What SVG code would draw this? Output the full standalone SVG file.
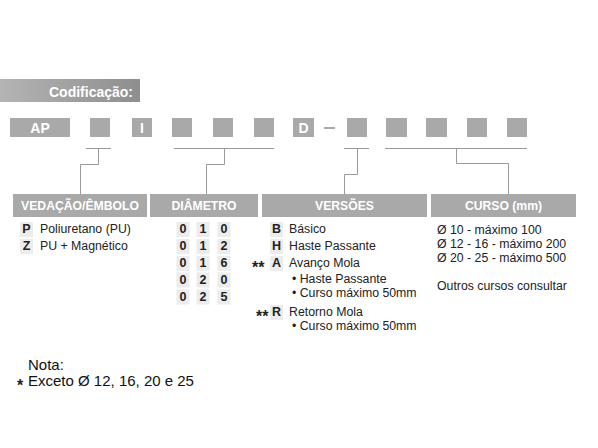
<svg xmlns="http://www.w3.org/2000/svg" width="598" height="448" viewBox="0 0 598 448">
<defs>
<linearGradient id="tg" x1="0" y1="0" x2="1" y2="0">
<stop offset="0" stop-color="#b4b4b4"/>
<stop offset="1" stop-color="#8e8e8e"/>
</linearGradient>
</defs>
<style>
.box{fill:#a9a9a9}
.hdr{fill:#a9a9a9}
.cell{fill:#ececec}
.ln{fill:none;stroke:#9a9a9a;stroke-width:1}
.wt{font-family:"Liberation Sans",Arial,sans-serif;font-weight:bold;fill:#fff;text-anchor:middle}
.t{font-family:"Liberation Sans",Arial,sans-serif;font-size:12.3px;fill:#222}
.b{font-family:"Liberation Sans",Arial,sans-serif;font-size:12.5px;font-weight:bold;fill:#222;text-anchor:middle}
.st{font-family:"Liberation Sans",Arial,sans-serif;font-size:16px;font-weight:bold;fill:#222}
.n{font-family:"Liberation Sans",Arial,sans-serif;font-size:15px;fill:#111}
</style>
<rect width="598" height="448" fill="#fff"/>

<g id="title">
<rect x="0" y="79" width="140" height="23" fill="url(#tg)"/>
<text x="91" y="97" class="wt" font-size="14">Codificação:</text>
</g>

<g id="code">
<rect class="box" x="10" y="118" width="60" height="19"/>
<text x="40" y="133" class="wt" font-size="14">AP</text>
<rect class="box" x="90" y="118" width="20" height="19"/>
<rect class="box" x="132" y="118" width="20" height="19"/>
<text x="142" y="133" class="wt" font-size="14">I</text>
<rect class="box" x="172" y="118" width="20" height="19"/>
<rect class="box" x="213" y="118" width="20" height="19"/>
<rect class="box" x="254" y="118" width="20" height="19"/>
<rect class="box" x="293" y="118" width="21" height="19"/>
<text x="303.5" y="133" class="wt" font-size="14">D</text>
<rect x="324" y="127" width="11" height="2" fill="#a9a9a9"/>
<rect class="box" x="347" y="118" width="20" height="19"/>
<rect class="box" x="386" y="118" width="21" height="19"/>
<rect class="box" x="426" y="118" width="21" height="19"/>
<rect class="box" x="467" y="118" width="20" height="19"/>
<rect class="box" x="507" y="118" width="20" height="19"/>
</g>

<g id="connectors">
<line class="ln" x1="86" y1="148.5" x2="111" y2="148.5"/>
<polyline class="ln" points="98.5,148.5 98.5,164.5 80.5,164.5 80.5,194"/>
<line class="ln" x1="174" y1="148.5" x2="274" y2="148.5"/>
<polyline class="ln" points="224.5,148.5 224.5,164.5 206.5,164.5 206.5,194"/>
<line class="ln" x1="344" y1="148.5" x2="369" y2="148.5"/>
<polyline class="ln" points="357.5,148.5 357.5,174.5 344.5,174.5 344.5,194"/>
<line class="ln" x1="385" y1="148.5" x2="527" y2="148.5"/>
<polyline class="ln" points="456.5,148.5 456.5,163.5 508.5,163.5 508.5,194"/>
</g>

<g id="vedacao">
<rect class="hdr" x="13" y="194" width="134" height="23"/>
<text x="80" y="210" class="wt" font-size="12.2">VEDAÇÃO/ÊMBOLO</text>
<rect class="cell" x="20" y="222" width="13" height="15"/>
<rect class="cell" x="20" y="239" width="13" height="15"/>
<text x="26.5" y="233" class="b">P</text>
<text x="26.5" y="250" class="b">Z</text>
<text x="40" y="233" class="t">Poliuretano (PU)</text>
<text x="40" y="250" class="t">PU + Magnético</text>
</g>

<g id="diametro">
<rect class="hdr" x="150" y="194" width="108" height="23"/>
<text x="204" y="210" class="wt" font-size="12.2">DIÂMETRO</text>
<g class="cell">
<rect x="176.5" y="222" width="13" height="15"/><rect x="196.5" y="222" width="13" height="15"/><rect x="217.5" y="222" width="13" height="15"/>
<rect x="176.5" y="239" width="13" height="15"/><rect x="196.5" y="239" width="13" height="15"/><rect x="217.5" y="239" width="13" height="15"/>
<rect x="176.5" y="256" width="13" height="15"/><rect x="196.5" y="256" width="13" height="15"/><rect x="217.5" y="256" width="13" height="15"/>
<rect x="176.5" y="272.5" width="13" height="15"/><rect x="196.5" y="272.5" width="13" height="15"/><rect x="217.5" y="272.5" width="13" height="15"/>
<rect x="176.5" y="289.5" width="13" height="15"/><rect x="196.5" y="289.5" width="13" height="15"/><rect x="217.5" y="289.5" width="13" height="15"/>
</g>
<text class="b" y="233"><tspan x="183">0</tspan><tspan x="203">1</tspan><tspan x="224">0</tspan></text>
<text class="b" y="250"><tspan x="183">0</tspan><tspan x="203">1</tspan><tspan x="224">2</tspan></text>
<text class="b" y="267"><tspan x="183">0</tspan><tspan x="203">1</tspan><tspan x="224">6</tspan></text>
<text class="b" y="283.5"><tspan x="183">0</tspan><tspan x="203">2</tspan><tspan x="224">0</tspan></text>
<text class="b" y="300.5"><tspan x="183">0</tspan><tspan x="203">2</tspan><tspan x="224">5</tspan></text>
</g>

<g id="versoes">
<rect class="hdr" x="262" y="194" width="165" height="23"/>
<text x="344.5" y="210" class="wt" font-size="12.2">VERSÕES</text>
<rect class="cell" x="270" y="222" width="13" height="15"/>
<rect class="cell" x="270" y="239" width="13" height="15"/>
<rect class="cell" x="270" y="256" width="13" height="15"/>
<rect class="cell" x="270" y="305" width="13" height="15"/>
<text x="276.5" y="233" class="b">B</text>
<text x="276.5" y="250" class="b">H</text>
<text x="276.5" y="267" class="b">A</text>
<text x="276.5" y="316" class="b">R</text>
<text x="252" y="273" class="st">**</text>
<text x="256" y="322" class="st">**</text>
<text x="289" y="233" class="t">Básico</text>
<text x="289" y="250" class="t">Haste Passante</text>
<text x="289" y="267" class="t">Avanço Mola</text>
<text x="292" y="282.5" class="t">• Haste Passante</text>
<text x="292" y="296.5" class="t">• Curso máximo 50mm</text>
<text x="289" y="316" class="t">Retorno Mola</text>
<text x="292" y="330" class="t">• Curso máximo 50mm</text>
</g>

<g id="curso">
<rect class="hdr" x="431" y="194" width="145" height="23"/>
<text x="503.5" y="210" class="wt" font-size="12.2">CURSO (mm)</text>
<text x="437" y="234" class="t" font-size="12.5">Ø 10 - máximo 100</text>
<text x="437" y="248" class="t" font-size="12.5">Ø 12 - 16 - máximo 200</text>
<text x="437" y="262" class="t" font-size="12.5">Ø 20 - 25 - máximo 500</text>
<text x="437" y="290" class="t" font-size="12.5">Outros cursos consultar</text>
</g>

<g id="nota">
<text x="28" y="370" class="n">Nota:</text>
<text x="17" y="391" class="st" font-size="17">*</text>
<text x="28" y="386" class="n">Exceto Ø 12, 16, 20 e 25</text>
</g>
</svg>
